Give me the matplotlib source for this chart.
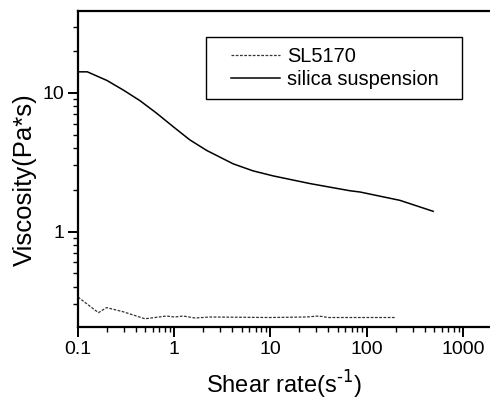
import matplotlib
matplotlib.use("Agg")
import matplotlib.pyplot as plt
from matplotlib.legend_handler import HandlerLine2D
from matplotlib.ticker import LogLocator, NullFormatter, FixedLocator, FixedFormatter

plt.rcParams['font.family'] = ['Liberation Sans', 'DejaVu Sans']

# data
silica_x = [0.1, 0.125, 0.2, 0.295, 0.44, 0.656, 1.0, 1.45, 2.17, 4.1, 6.6, 10.7, 25.7, 67, 85, 221, 490]
silica_y = [14.2, 14.2, 12.3, 10.5, 8.8, 7.14, 5.63, 4.59, 3.85, 3.08, 2.74, 2.52, 2.22, 1.97, 1.93, 1.68, 1.40]
sl_x = [0.1, 0.163, 0.198, 0.295, 0.496, 0.83, 1.01, 1.24, 1.64, 2.35, 9.8, 23.6, 31.6, 40, 195]
sl_y = [0.337, 0.26, 0.283, 0.264, 0.235, 0.246, 0.242, 0.246, 0.238, 0.242, 0.24, 0.242, 0.246, 0.24, 0.24]
xticks = [0.1, 1, 10, 100, 1000]
xticklabels = ['0.1', '1', '10', '100', '1000']
yticks = [1, 10]
yticklabels = ['1', '10']

fig = plt.figure(figsize=(4.9, 4.01), dpi=100)
ax = fig.add_axes([78/490, 1-327/401, 1-78/490, (327-11)/401])

l1, = ax.plot(sl_x, sl_y, color='#333333', lw=0.9, linestyle=(0, (2.2, 1.2)), label='SL5170')
l2, = ax.plot(silica_x, silica_y, color='black', lw=1.1, label='silica suspension')

ax.set_xscale('log')
ax.set_yscale('log')
ax.set_xlim(0.1, 1908)
ax.set_ylim(0.205, 39)

ax.xaxis.set_major_locator(FixedLocator(xticks))
ax.xaxis.set_major_formatter(FixedFormatter(xticklabels))
ax.xaxis.set_minor_locator(LogLocator(base=10, subs=range(2, 10), numticks=20))
ax.xaxis.set_minor_formatter(NullFormatter())
ax.yaxis.set_major_locator(FixedLocator(yticks))
ax.yaxis.set_major_formatter(FixedFormatter(yticklabels))
ax.yaxis.set_minor_locator(LogLocator(base=10, subs=range(2, 10), numticks=20))
ax.yaxis.set_minor_formatter(NullFormatter())

ax.spines['right'].set_visible(False)
for s in ['left', 'bottom', 'top']:
    ax.spines[s].set_linewidth(1.6)
ax.tick_params(which='major', direction='out', length=7, width=1.4, labelsize=14, pad=3)
ax.tick_params(which='minor', direction='out', length=3.5, width=1.0)
ax.tick_params(top=False, right=False)

ax.set_xlabel('Shear rate(s$^{\\text{-1}}$)', fontsize=17, labelpad=8)
ax.set_ylabel('Viscosity(Pa*s)', fontsize=18.5)
ax.yaxis.set_label_coords(-(78-37)/412, (327-180)/316)

leg = ax.legend(handles=[l1, l2], loc='upper left',
                bbox_to_anchor=(128/412, 0, 256/412, (327-37)/316),
                mode='expand', borderaxespad=0, fontsize=14.4,
                handlelength=3.2, handletextpad=0.34, borderpad=0.5, labelspacing=0.22,
                fancybox=False, framealpha=1, edgecolor='black',
                handler_map={l1: HandlerLine2D(xpad=0.75), l2: HandlerLine2D(xpad=0.75)})
leg.get_frame().set_linewidth(1.0)

fig.savefig('out.png', dpi=100)
